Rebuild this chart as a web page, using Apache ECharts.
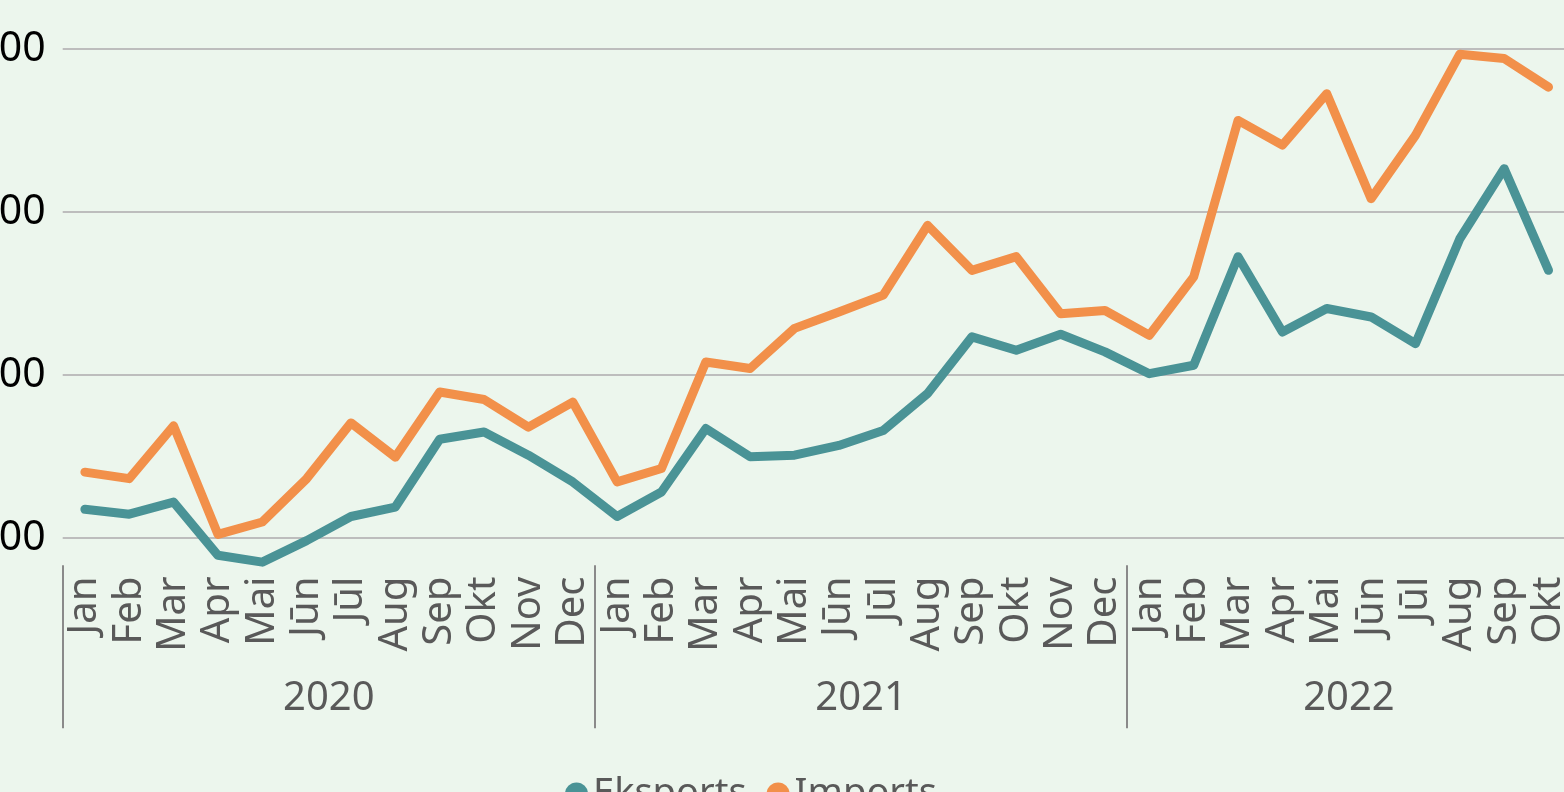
<!DOCTYPE html>
<html>
<head>
<meta charset="utf-8">
<script src="https://cdn.jsdelivr.net/npm/echarts@6/dist/echarts.min.js"></script>
<style>
    html, body { margin: 0; padding: 0; background: #ecf6ed; }
    #chart { width: 1564px; height: 792px; }
</style>
</head>
<body>
<div id="chart"></div>
<script>
var monthNames = ['Jan', 'Feb', 'Mar', 'Apr', 'Mai', 'Jūn', 'Jūl', 'Aug', 'Sep', 'Okt', 'Nov', 'Dec'];
var years = ['2020', '2021', '2022'];
var monthsPerYear = [12, 12, 10];

var eksports = [
    1088, 1073, 1110, 947, 926, 992, 1066, 1095, 1303, 1325, 1254, 1172,
    1066, 1141, 1336, 1249, 1254, 1284, 1330, 1443, 1617, 1576, 1625, 1571,
    1504, 1530, 1863, 1632, 1704, 1678, 1596, 1918, 2133, 1821
];
var imports = [
    1202, 1182, 1344, 1011, 1049, 1182, 1353, 1248, 1448, 1425, 1340, 1417,
    1172, 1213, 1540, 1520, 1643, 1693, 1745, 1959, 1821, 1863, 1688, 1698,
    1622, 1801, 2281, 2205, 2363, 2041, 2235, 2484, 2471, 2383
];
var yTicks = [1000, 1500, 2000, 2500];
var yMin = 900;

// month and year per category
var months = [];
var yearOfMonth = [];
var yearStart = [];
var yearMid = [];
years.forEach(function (y, i) {
    yearStart.push(months.length);
    yearMid.push(months.length + monthsPerYear[i] / 2 - 1);
    for (var m = 0; m < monthsPerYear[i]; m++) {
        months.push(monthNames[m]);
        yearOfMonth.push(y);
    }
});

var chart = echarts.init(document.getElementById('chart'));

var font = 'Noto Sans';
var option = {
    backgroundColor: '#ecf6ed',
    textStyle: { fontFamily: font },
    legend: {
        left: 560,
        top: 770,
        icon: 'circle',
        itemWidth: 23,
        itemHeight: 23,
        itemGap: 20,
        textStyle: { fontSize: 38, color: '#595959', fontFamily: font },
        data: ['Eksports', 'Imports']
    },
    grid: {
        left: 62.7,
        top: 49,
        width: 1508,
        height: 521.6,
        containLabel: false,
        outerBoundsMode: 'none'
    },
    xAxis: [
        {
            type: 'category',
            data: months,
            axisLine: { show: false },
            axisTick: { show: false },
            axisLabel: {
                interval: 0,
                rotate: 90,
                margin: 6,
                fontSize: 40,
                color: '#595959',
                fontFamily: font
            }
        },
        {
            type: 'category',
            data: yearOfMonth,
            position: 'bottom',
            offset: -5.3,
            axisLine: { show: false },
            axisTick: {
                show: true,
                length: 163,
                interval: function (idx) { return yearStart.indexOf(idx) >= 0; },
                lineStyle: { color: '#8a8a8a', width: 2 }
            },
            axisLabel: {
                interval: function (idx) { return yearMid.indexOf(idx) >= 0; },
                margin: 113,
                fontSize: 40,
                color: '#595959',
                fontFamily: font,
                padding: [0, 0, 0, 44.35]
            }
        }
    ],
    yAxis: {
        type: 'value',
        min: yMin,
        max: yTicks[yTicks.length - 1],
        axisLine: { show: false },
        axisTick: { show: false, customValues: yTicks },
        axisLabel: {
            customValues: yTicks,
            margin: 17,
            fontSize: 41,
            color: '#000000',
            fontFamily: font,
            formatter: function (v) {
                return String(v).replace(/\B(?=(\d{3})+(?!\d))/g, ' ');
            }
        },
        splitLine: { lineStyle: { color: '#bdbdbd', width: 2 } }
    },
    series: [
        {
            name: 'Eksports',
            type: 'line',
            data: eksports,
            symbol: 'none',
            clip: false,
            itemStyle: { color: '#4a9396' },
            lineStyle: { width: 9, color: '#4a9396', cap: 'round', join: 'round' }
        },
        {
            name: 'Imports',
            type: 'line',
            data: imports,
            symbol: 'none',
            clip: false,
            itemStyle: { color: '#f2904a' },
            lineStyle: { width: 9, color: '#f2904a', cap: 'round', join: 'round' }
        }
    ]
};

chart.setOption(option);
</script>
</body>
</html>
